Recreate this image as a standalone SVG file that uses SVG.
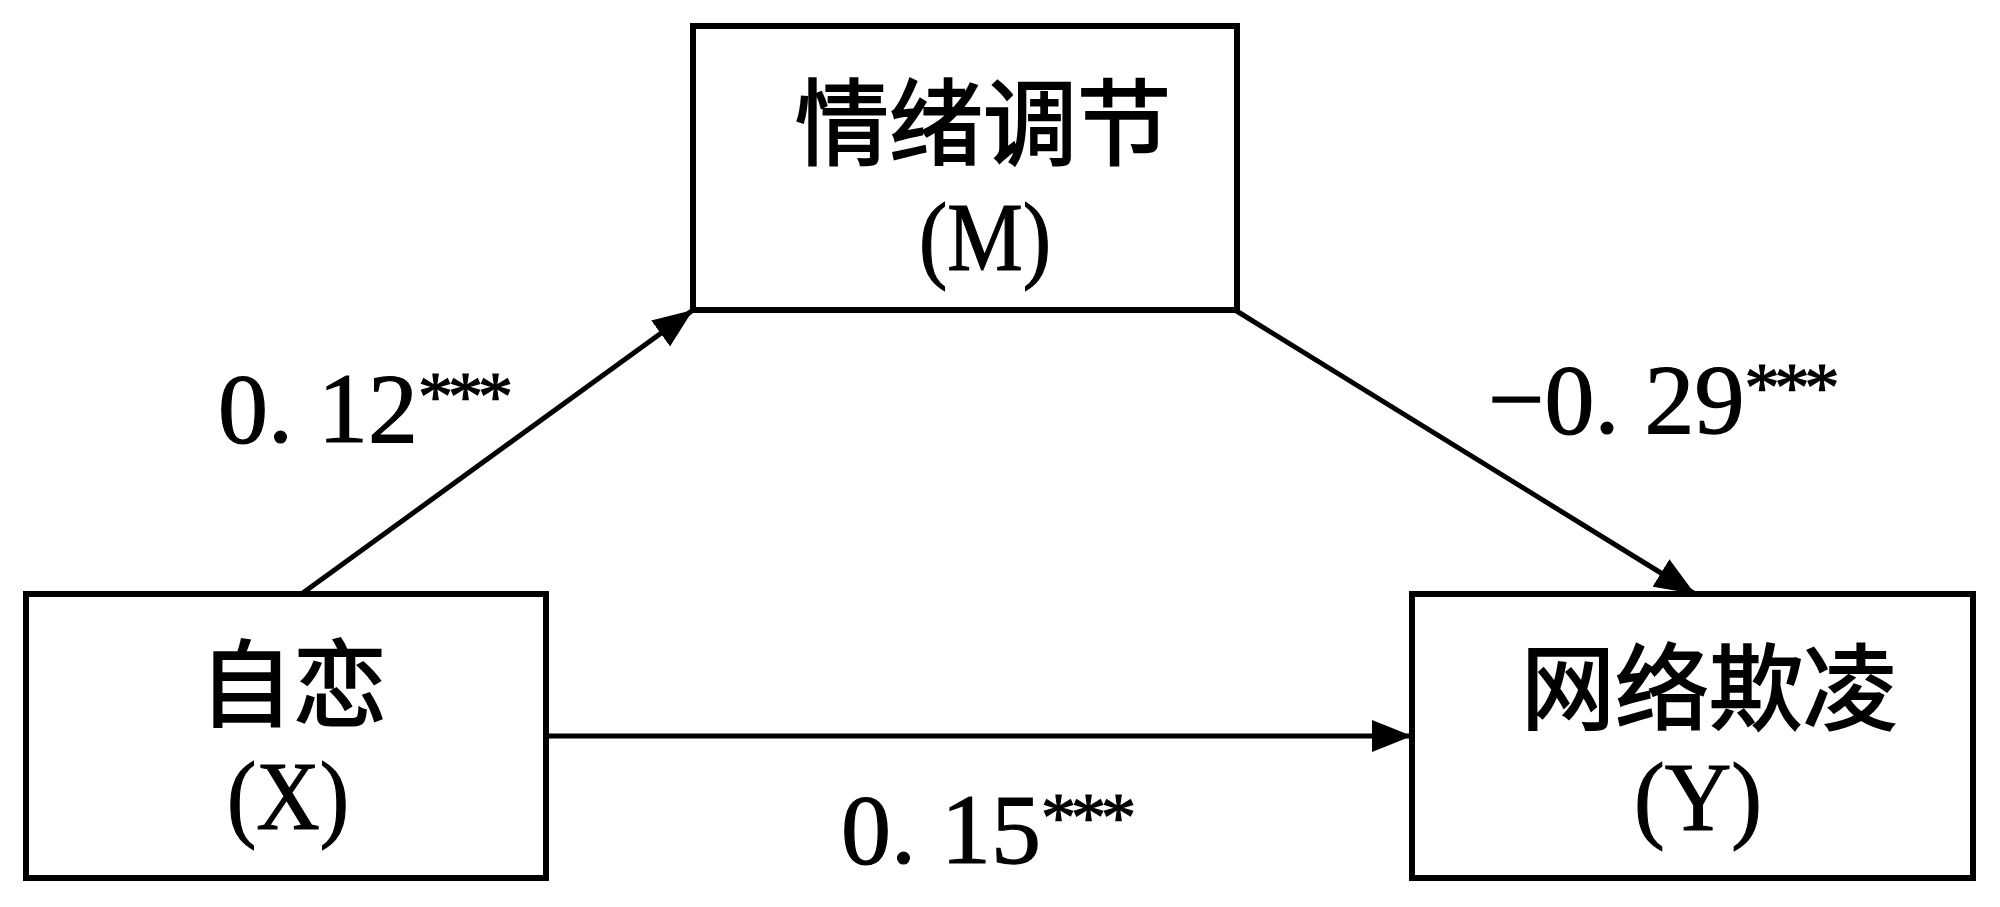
<svg xmlns="http://www.w3.org/2000/svg" width="2000" height="907" viewBox="0 0 2000 907">
<style>
.box{fill:#fff;stroke:#000;stroke-width:6}
.cjk{font-family:"Noto Sans CJK SC","Noto Sans CJK JP",sans-serif;font-size:94px;fill:#000;stroke:#000;stroke-width:2;text-anchor:middle}
.var{font-family:"Liberation Serif",serif;font-size:97px;fill:#000;stroke:#000;stroke-width:1.2;text-anchor:middle}
.lbl{font-family:"Liberation Serif",serif;font-size:100px;fill:#000;stroke:#000;stroke-width:1.2}
.sup{font-size:70px;letter-spacing:-5px}
.edge{stroke:#000;stroke-width:5;fill:none}
</style>
<defs>
<marker id="arr" viewBox="0 0 40 32" refX="40" refY="16" markerWidth="40" markerHeight="32" orient="auto" markerUnits="userSpaceOnUse">
<path d="M0,0 L40,16 L0,32 Z" fill="#000"/>
</marker>
</defs>
<rect width="2000" height="907" fill="#fff"/>
<g id="connectors">
<line class="edge" x1="300" y1="595" x2="693" y2="310" marker-end="url(#arr)"/>
<line class="edge" x1="1235" y1="310" x2="1695" y2="594" marker-end="url(#arr)"/>
<line class="edge" x1="546" y1="736" x2="1412" y2="736" marker-end="url(#arr)"/>
</g>
<g id="node-M">
<rect class="box" x="693" y="26" width="544" height="284"/>
<text class="cjk" x="983" y="158">情绪调节</text>
<text class="var" x="985" y="270" textLength="132" lengthAdjust="spacingAndGlyphs">(M)</text>
</g>
<g id="node-X">
<rect class="box" x="26" y="594" width="520" height="284"/>
<text class="cjk" x="293" y="719">自恋</text>
<text class="var" x="288" y="829" textLength="122" lengthAdjust="spacingAndGlyphs">(X)</text>
</g>
<g id="node-Y">
<rect class="box" x="1412" y="594" width="561" height="284"/>
<text class="cjk" x="1709" y="723">网络欺凌</text>
<text class="var" x="1698" y="830" textLength="128" lengthAdjust="spacingAndGlyphs">(Y)</text>
</g>
<g id="labels">
<text class="lbl" x="218" y="442">0. 12<tspan class="sup" dy="-22">***</tspan></text>
<text class="lbl" x="1488" y="433">−0. 29<tspan class="sup" dy="-22">***</tspan></text>
<text class="lbl" x="841" y="863">0. 15<tspan class="sup" dy="-22">***</tspan></text>
</g>
</svg>
